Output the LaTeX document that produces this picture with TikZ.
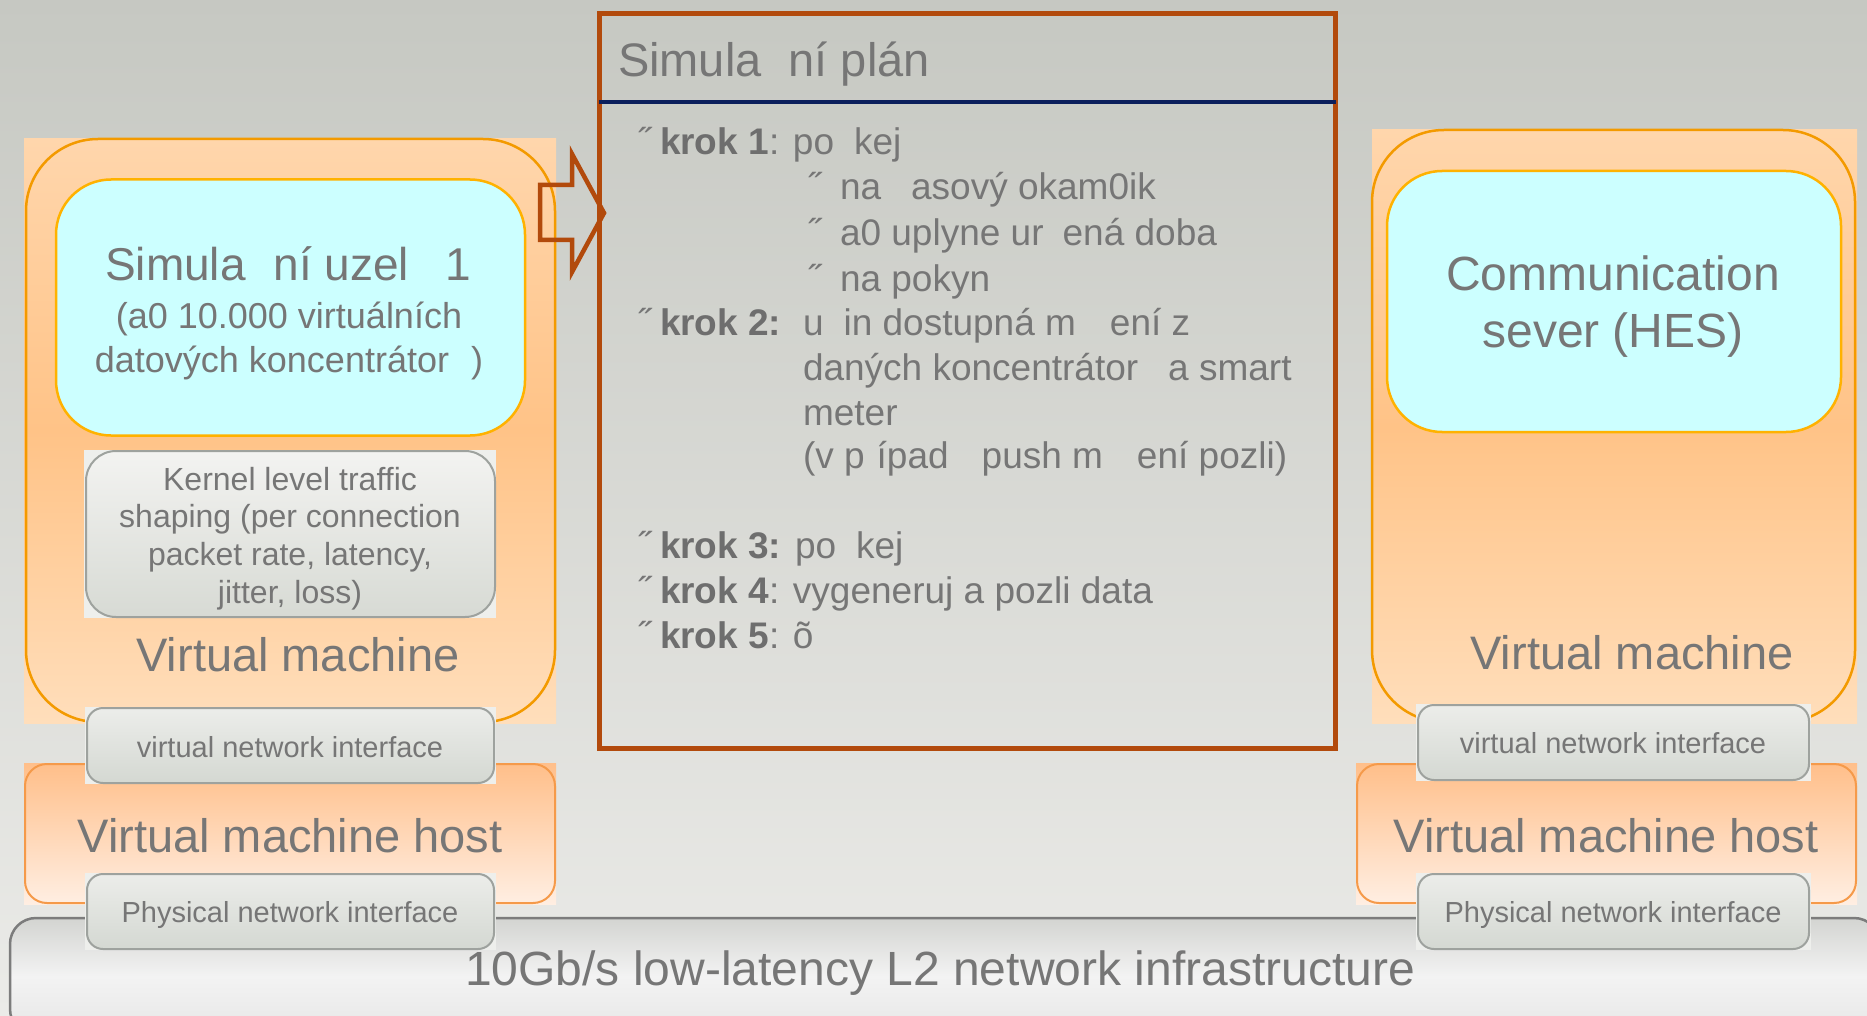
\documentclass[tikz,border=0pt]{standalone}
\usepackage{fontspec}
\setmainfont{Liberation Sans}
\definecolor{txt}{HTML}{767676}
\definecolor{txtb}{HTML}{6E6E6E}
\definecolor{rust}{HTML}{B24A0C}
\definecolor{navy}{HTML}{0B1F5C}
\definecolor{vmline}{HTML}{F39A00}
\definecolor{cyanfill}{HTML}{CCFFFF}
\definecolor{cyanline}{HTML}{FFB200}
\definecolor{peachA}{HTML}{FFD6AC}
\definecolor{peachB}{HTML}{FFC387}
\definecolor{peachC}{HTML}{FFDEBB}
\definecolor{hostA}{HTML}{FFBF8A}
\definecolor{hostB}{HTML}{FFEEE2}
\definecolor{hostline}{HTML}{F59A4A}
\definecolor{ifA}{HTML}{ECEDEA}
\definecolor{ifB}{HTML}{D4D8D2}
\definecolor{ifline}{HTML}{9EA29E}
\definecolor{ifbg}{HTML}{EEEFEC}
\definecolor{kA}{HTML}{F3F3F1}
\definecolor{kB}{HTML}{D7DAD4}
\definecolor{bgA}{HTML}{C6C8C2}
\definecolor{bgB}{HTML}{EBEBE8}
\definecolor{netA}{HTML}{D3D4D1}
\definecolor{netB}{HTML}{F3F3F3}
\definecolor{netC}{HTML}{E6E6E6}
\definecolor{netline}{HTML}{7C7C7C}
\newcommand\planfont{\fontsize{37}{45}\selectfont}
\newcommand\fsz[1]{\fontsize{#1}{#1}\selectfont}
\begin{document}
\begin{tikzpicture}[x=1pt,y=-1pt,
  every node/.style={inner sep=0pt,outer sep=0pt,text=txt},
  vmsq/.style={rectangle,draw=none,top color=peachA,bottom color=peachC,middle color=peachB},
  vmround/.style={rectangle,rounded corners=72pt,draw=vmline,line width=2.5pt},
  cyanbox/.style={rectangle,rounded corners=55pt,fill=cyanfill,draw=cyanline,line width=2.5pt},
  hostsq/.style={rectangle,draw=none,top color=hostA,bottom color=hostB},
  hostbox/.style={rectangle,rounded corners=22pt,top color=hostA,bottom color=hostB,draw=hostline,line width=2pt},
  ifsq/.style={rectangle,draw=none,fill=ifbg},
  ifbox/.style={rectangle,rounded corners=16pt,top color=ifA,bottom color=ifB,draw=ifline,line width=2pt},
  kbox/.style={rectangle,rounded corners=30pt,top color=kA,bottom color=kB,draw=ifline,line width=2pt},
  netbox/.style={rectangle,rounded corners=26pt,top color=netA,bottom color=netC,middle color=netB,draw=netline,line width=2.5pt},
  planbox/.style={rectangle,draw=rust,line width=5pt},
  pl/.style={anchor=base west,font=\planfont},
  bl/.style={anchor=base west,font=\planfont},
  ctr/.style={anchor=base,align=center}]
\useasboundingbox (0,0) rectangle (1867,1016);
\clip (0,0) rectangle (1867,1016);
\path[top color=bgA,bottom color=bgB] (0,0) rectangle (1867,1016);

% network infrastructure
\node[netbox,minimum width=1870pt,minimum height=117pt] (net) at (945,976.5) {};
\node[ctr,font=\fsz{48}] (nett) at (940,985) {10Gb/s low-latency L2 network infrastructure};

% left VM
\node[vmsq,minimum width=532pt,minimum height=584pt] (lvmbg) at (290,431) {};
\node[vmround,minimum width=529pt,minimum height=583pt] (lvm) at (290.5,430.5) {};
\node[cyanbox,minimum width=469pt,minimum height=256pt] (lsim) at (290.5,307.5) {};
\node[ctr,font=\fsz{46}] (lsimt) at (288,280) {Simula\hspace{28pt}ní uzel\hspace{36pt}1};
\node[ctr,font=\fsz{36}] (lsim1) at (289,328) {(a0 10.000 virtuálních};
\node[ctr,font=\fsz{36}] (lsim2) at (289,372) {datových koncentrátor\hspace{22pt})};
\node[ifsq,minimum width=412pt,minimum height=168pt] (kbg) at (290,534) {};
\node[kbox,minimum width=409pt,minimum height=166pt] (kern) at (290.5,534) {};
\node[ctr,font=\fsz{32}] (k1) at (290,490) {Kernel level traffic};
\node[ctr,font=\fsz{32}] (k2) at (290,527) {shaping (per connection};
\node[ctr,font=\fsz{32}] (k3) at (290,565) {packet rate, latency,};
\node[ctr,font=\fsz{32}] (k4) at (290,603) {jitter, loss)};
\node[ctr,font=\fsz{47}] (lvmt) at (298,671) {Virtual machine};

% right VM
\node[vmsq,minimum width=485pt,minimum height=593pt] (rvmbg) at (1614.5,426.5) {};
\node[vmround,minimum width=483pt,minimum height=592pt] (rvm) at (1613.5,426) {};
\node[cyanbox,minimum width=454pt,minimum height=261pt] (hes) at (1614,301.5) {};
\node[ctr,font=\fsz{48}] (hes1) at (1613,290) {Communication};
\node[ctr,font=\fsz{48}] (hes2) at (1613,347) {sever (HES)};
\node[ctr,font=\fsz{47}] (rvmt) at (1632,669) {Virtual machine};

% hosts
\node[hostsq,minimum width=532pt,minimum height=141pt] (lhostbg) at (290,833.5) {};
\node[hostbox,minimum width=530pt,minimum height=139pt] (lhost) at (290,833.5) {};
\node[ctr,font=\fsz{47}] (lhostt) at (290,852) {Virtual machine host};
\node[hostsq,minimum width=501pt,minimum height=141pt] (rhostbg) at (1606.5,833.5) {};
\node[hostbox,minimum width=499pt,minimum height=139pt] (rhost) at (1606.5,833.5) {};
\node[ctr,font=\fsz{47}] (rhostt) at (1606,852) {Virtual machine host};

% interfaces
\node[ifsq,minimum width=411pt,minimum height=77pt] (lvnibg) at (290.5,745.5) {};
\node[ifbox,minimum width=407pt,minimum height=75pt] (lvni) at (290.5,745.5) {};
\node[ctr,font=\fsz{29}] (lvnit) at (290,757) {virtual network interface};
\node[ifsq,minimum width=411pt,minimum height=77pt] (lpnibg) at (290.5,911.5) {};
\node[ifbox,minimum width=407pt,minimum height=75pt] (lpni) at (290.5,911.5) {};
\node[ctr,font=\fsz{29}] (lpnit) at (290,922) {Physical network interface};
\node[ifsq,minimum width=395pt,minimum height=77pt] (rvnibg) at (1613.5,742.5) {};
\node[ifbox,minimum width=391pt,minimum height=75pt] (rvni) at (1613.5,742.5) {};
\node[ctr,font=\fsz{29}] (rvnit) at (1613,753) {virtual network interface};
\node[ifsq,minimum width=395pt,minimum height=77pt] (rpnibg) at (1613.5,911.5) {};
\node[ifbox,minimum width=391pt,minimum height=75pt] (rpni) at (1613.5,911.5) {};
\node[ctr,font=\fsz{29}] (rpnit) at (1613,922) {Physical network interface};

% plan box
\node[planbox,minimum width=736pt,minimum height=735pt] (plan) at (967.5,381) {};
\coordinate (hl) at (599,102);
\coordinate (hr) at (1336,102);
\draw[navy,line width=4.5pt] (hl) -- (hr);
\node[anchor=base west,font=\fsz{47}] (plant) at (618,77) {Simula\hspace{27pt}ní plán};

\node[bl] (b1) at (638,155) {˝};
\node[pl] (t1) at (660,155) {\textcolor{txtb}{\textbf{krok 1}}: po\hspace{20pt}kej};
\node[bl] (s1) at (808,200) {˝};
\node[pl] (t1a) at (840,200) {na\hspace{30pt}asový okam0ik};
\node[bl] (s2) at (808,246) {˝};
\node[pl] (t1b) at (840,246) {a0 uplyne ur\hspace{19pt}ená doba};
\node[bl] (s3) at (808,291) {˝};
\node[pl] (t1c) at (840,291) {na pokyn};
\node[bl] (b2) at (638,335) {˝};
\node[pl] (t2) at (660,335) {\textcolor{txtb}{\textbf{krok 2:}}};
\node[pl] (t2a) at (803,335) {u\hspace{20pt}in dostupná m\hspace{34pt}ení z};
\node[pl] (t2b) at (803,380) {daných koncentrátor\hspace{30pt}a smart};
\node[pl] (t2c) at (803,425) {meter};
\node[pl] (t2d) at (803,468) {(v p\hspace{12pt}ípad\hspace{33pt}push m\hspace{34pt}ení pozli)};
\node[bl] (b3) at (638,558) {˝};
\node[pl] (t3) at (660,558) {\textcolor{txtb}{\textbf{krok 3:}} po\hspace{20pt}kej};
\node[bl] (b4) at (638,603) {˝};
\node[pl] (t4) at (660,603) {\textcolor{txtb}{\textbf{krok 4}}: vygeneruj a pozli data};
\node[bl] (b5) at (638,648) {˝};
\node[pl] (t5) at (660,648) {\textcolor{txtb}{\textbf{krok 5}}: õ};

% block arrow
\draw[rust,line width=4.5pt,line join=miter]
  (540,185) -- (572,185) -- (572,154) -- (604,213) -- (572,272) -- (572,240) -- (540,240) -- cycle;
\end{tikzpicture}
\end{document}
